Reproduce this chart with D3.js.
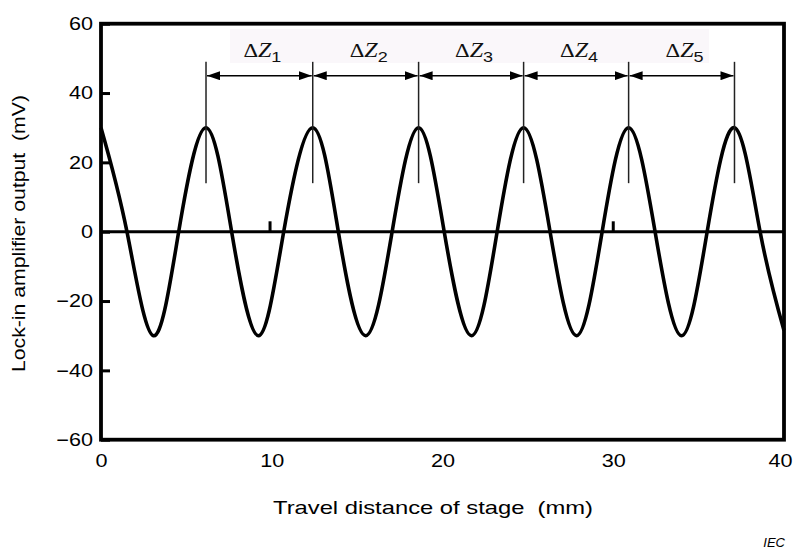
<!DOCTYPE html>
<html>
<head>
<meta charset="utf-8">
<script src="https://cdn.jsdelivr.net/npm/d3@7"></script>
<style>
  html, body { margin: 0; padding: 0; background: #fff; }
  svg { display: block; }
</style>
</head>
<body>
<svg id="chart" width="795" height="549"></svg>
<script>
// ---- data ----
const waveX = [0, 1.52, 3.07, 4.55, 6.15, 7.65, 9.22, 10.7, 12.4, 13.9, 15.5, 17.05,
               18.6, 20.1, 21.7, 23.2, 24.75, 26.3, 27.85, 29.35, 30.9, 32.45, 34.0,
               35.5, 37.1, 38.6, 40];
const waveY = [30, 0, -30, 0, 30, 0, -30, 0, 30, 0, -30, 0,
               30, 0, -30, 0, 30, 0, -30, 0, 30, 0, -30,
               0, 30, 0, -28.5];
const peakX = [6.15, 12.4, 18.6, 24.75, 30.9, 37.1];
const deltaLabels = ["1", "2", "3", "4", "5"];
const markX = [9.9, 30.0];
const xTicks = [0, 10, 20, 30, 40];
const yTicks = [-60, -40, -20, 0, 20, 40, 60];

const svg = d3.select("#chart");
const pLeft = 101, pRight = 784, pTop = 23.7, pBottom = 439.7;
const x = d3.scaleLinear().domain([0, 40]).range([pLeft, pRight]);
const y = d3.scaleLinear().domain([-60, 60]).range([pBottom, pTop]);
const font = "'Liberation Sans', Arial, sans-serif";
const serif = "'Liberation Serif', 'Times New Roman', serif";

function widen(sel, k) {
  sel.each(function () {
    const w = this.getComputedTextLength();
    d3.select(this).attr("textLength", w * k).attr("lengthAdjust", "spacingAndGlyphs");
  });
}

// label background band
svg.append("rect")
  .attr("x", 230).attr("y", 29).attr("width", 479).attr("height", 34)
  .attr("fill", "#faf7fa");

// zero line
svg.append("line")
  .attr("x1", x(0)).attr("x2", x(40)).attr("y1", y(0)).attr("y2", y(0))
  .attr("stroke", "#000").attr("stroke-width", 3);

// small marks on zero line
svg.selectAll(".mark").data(markX).enter().append("line")
  .attr("x1", d => x(d)).attr("x2", d => x(d))
  .attr("y1", y(0)).attr("y2", y(3))
  .attr("stroke", "#000").attr("stroke-width", 3);

// wave
const line = d3.line().x((d, i) => x(waveX[i])).y(d => y(d)).curve(d3.curveNatural);
svg.append("path").datum(waveY)
  .attr("d", line)
  .attr("fill", "none").attr("stroke", "#000").attr("stroke-width", 3.6)
  .attr("stroke-linejoin", "round");

// vertical reference lines at peaks
svg.selectAll(".vline").data(peakX).enter().append("line")
  .attr("x1", d => x(d)).attr("x2", d => x(d))
  .attr("y1", y(49)).attr("y2", y(14))
  .attr("stroke", "#222").attr("stroke-width", 1.5);

// arrows
const defs = svg.append("defs");
defs.append("marker").attr("id", "ah").attr("viewBox", "0 0 13 9")
  .attr("refX", 13).attr("refY", 4.5).attr("markerWidth", 13).attr("markerHeight", 9)
  .attr("markerUnits", "userSpaceOnUse").attr("orient", "auto-start-reverse")
  .append("path").attr("d", "M0,0 L13,4.5 L0,9 Z").attr("fill", "#000");

const pairs = d3.pairs(peakX);
svg.selectAll(".arrow").data(pairs).enter().append("line")
  .attr("x1", d => x(d[0]) + 1).attr("x2", d => x(d[1]) - 1)
  .attr("y1", y(45)).attr("y2", y(45))
  .attr("stroke", "#000").attr("stroke-width", 1.6)
  .attr("marker-start", "url(#ah)").attr("marker-end", "url(#ah)");

// delta labels
const lab = svg.selectAll(".dlab").data(pairs).enter().append("text")
  .attr("transform", d => `translate(${(x(d[0]) + x(d[1])) / 2 + 3},57) scale(1.2,1)`)
  .attr("text-anchor", "middle")
  .attr("fill", "#111");
lab.append("tspan").text("\u0394").attr("font-family", serif).attr("font-size", 19);
lab.append("tspan").text("Z").attr("font-family", serif).attr("font-style", "italic").attr("font-size", 20);
lab.append("tspan").text((d, i) => deltaLabels[i]).attr("font-family", font).attr("font-size", 15).attr("dy", 5);

// frame
svg.append("rect")
  .attr("x", pLeft).attr("y", pTop).attr("width", pRight - pLeft).attr("height", pBottom - pTop)
  .attr("fill", "none").attr("stroke", "#000").attr("stroke-width", 3.8);

// y axis ticks and labels
const yAxis = d3.axisLeft(y).tickValues(yTicks).tickSizeInner(-9).tickSizeOuter(0)
  .tickFormat(d => d < 0 ? "\u2212" + Math.abs(d) : d);
const gy = svg.append("g").attr("transform", `translate(${pLeft},0)`).call(yAxis);
gy.select(".domain").remove();
gy.selectAll(".tick line").attr("stroke", "#000").attr("stroke-width", 3);
gy.selectAll(".tick text").attr("x", -8).attr("font-family", font).attr("font-size", 18).attr("fill", "#000");
widen(gy.selectAll(".tick text"), 1.2);

// x axis labels
const xAxis = d3.axisBottom(x).tickValues(xTicks).tickSize(0);
const gx = svg.append("g").attr("transform", `translate(0,${pBottom})`).call(xAxis);
gx.select(".domain").remove();
gx.selectAll(".tick text").attr("y", 15).attr("font-family", font).attr("font-size", 18).attr("fill", "#000");
widen(gx.selectAll(".tick text"), 1.2);
gx.selectAll(".tick").filter(d => d === 40).select("text").attr("x", -4);

// axis titles
svg.append("text").attr("x", 433).attr("y", 514).attr("text-anchor", "middle")
  .attr("font-family", font).attr("font-size", 19).attr("fill", "#000")
  .attr("xml:space", "preserve")
  .attr("textLength", 320).attr("lengthAdjust", "spacingAndGlyphs")
  .text("Travel distance of stage  (mm)");
svg.append("text").attr("transform", "translate(25,233.5) rotate(-90)").attr("text-anchor", "middle")
  .attr("font-family", font).attr("font-size", 18).attr("fill", "#000")
  .attr("xml:space", "preserve")
  .attr("textLength", 277).attr("lengthAdjust", "spacingAndGlyphs")
  .text("Lock-in amplifier output  (mV)");

svg.append("text").attr("x", 785).attr("y", 547).attr("text-anchor", "end")
  .attr("font-family", font).attr("font-style", "italic").attr("font-size", 13).attr("fill", "#000")
  .text("IEC");
</script>
</body>
</html>
